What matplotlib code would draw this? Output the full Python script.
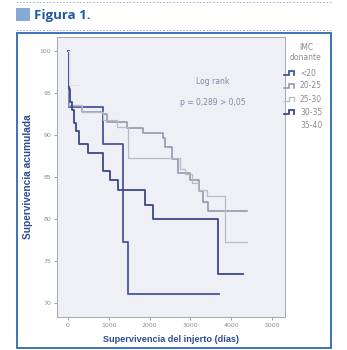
import numpy as np
import matplotlib.pyplot as plt
from matplotlib.lines import Line2D
from matplotlib.patches import Rectangle

# Kaplan-Meier curves: (days, % graft survival)
groups = ["<20", "20-25", "25-30", "30-35", "35-40"]

t_lt20 = [0, 25, 860, 1350, 1470, 3700]
s_lt20 = [100, 93.4, 88.9, 77.2, 71.0, 71.0]

t_20_25 = [0, 25, 345, 860, 955, 1450, 1840, 2330, 2380, 2550, 2700, 2980, 3200, 3300, 3440, 4390]
s_20_25 = [100, 93.5, 92.8, 92.5, 91.6, 90.9, 90.3, 89.6, 88.6, 87.1, 85.5, 84.6, 83.3, 82.0, 81.0, 81.0]

t_25_30 = [0, 25, 345, 860, 1200, 1470, 2750, 2870, 3040, 3190, 3400, 3850, 4390]
s_25_30 = [100, 93.6, 92.7, 91.8, 91.0, 87.3, 86.0, 85.3, 84.3, 83.4, 82.7, 77.3, 77.3]

t_30_35 = [0, 25, 60, 100, 150, 200, 260, 490, 860, 1030, 1225, 1890, 2080, 3680, 4290]
s_30_35 = [100, 95.5, 94.0, 93.0, 91.5, 90.5, 88.9, 87.9, 85.7, 84.7, 83.5, 81.7, 80.0, 73.4, 73.4]

t_35_40 = [0, 20, 250]
s_35_40 = [100, 96.0, 96.0]

x_ticks = [0, 1000, 2000, 3000, 4000, 5000]
y_ticks = [70, 75, 80, 85, 90, 95, 100]

times = [t_lt20, t_20_25, t_25_30, t_30_35, t_35_40]
survs = [s_lt20, s_20_25, s_25_30, s_30_35, s_35_40]
colors = ["#47549a", "#8b90aa", "#b8bbc6", "#3c4889", "#dde0e8"]
widths = [1.3, 1.1, 0.9, 1.3, 0.8]

W, H = 347, 350


def fx(x):
    return x / W


def fy(y):
    return 1 - y / H


fig = plt.figure(figsize=(W / 100, H / 100), dpi=100)
fig.patch.set_facecolor("white")

# header
for yy in (2, 30):
    fig.add_artist(Line2D([fx(16), fx(331)], [fy(yy), fy(yy)], color="#8fa3c8",
                          lw=0.6, ls=(0, (2, 2))))
fig.add_artist(Rectangle((fx(16), fy(21)), fx(14), 13 / H, color="#86a9d6", lw=0))
fig.text(fx(34), fy(15), "Figura 1.", color="#1d5aa2", fontsize=9.5,
         fontweight="bold", family=["Open Sans", "DejaVu Sans"], va="center")

# blue frame round the figure
fig.add_artist(Rectangle((fx(17), fy(348)), fx(314), 315 / H, fill=False,
                         ec="#2d68b2", lw=1.3))

ax = fig.add_axes([fx(57), fy(317), fx(228), 280 / H])
ax.set_facecolor("#eef0f5")

for t, s, c, lw in zip(times, survs, colors, widths):
    ax.step(t, s, where="post", color=c, lw=lw)

ax.set_xlim(-270, 5320)
ax.set_ylim(68.3, 101.7)
ax.set_xticks(x_ticks)
ax.set_yticks(y_ticks)
ax.tick_params(labelsize=4.5, colors="#8a8d98", length=2.5, width=0.6, pad=1.5)
for sp in ax.spines.values():
    sp.set_color("#a3a7b4")
    sp.set_linewidth(0.7)

lab_font = ["Liberation Sans Narrow", "Liberation Sans", "DejaVu Sans"]
ax.set_xlabel("Supervivencia del injerto (días)", fontsize=6.6, fontweight="bold",
              color="#2d4c92", family=lab_font, labelpad=5)
ax.set_ylabel("Supervivencia acumulada", fontsize=7.3, fontweight="bold",
              color="#2d4c92", family=lab_font, labelpad=5)

ax.text(3550, 96.4, "Log rank", fontsize=5.5, color="#7f88a8", ha="center", va="center")
ax.text(3550, 93.9, "p = 0,289 > 0,05", fontsize=5.5, color="#7f88a8",
        ha="center", va="center")

# legend with step icons
lax = fig.add_axes([fx(282), fy(132), fx(52), 92 / H])
lax.set_xlim(282, 334)
lax.set_ylim(132, 40)
lax.axis("off")
lax.text(306, 47, "IMC", fontsize=5.5, color="#8a8d98", ha="center", va="center")
lax.text(306, 57, "donante", fontsize=5.5, color="#8a8d98", ha="center", va="center")
for i, (g, c, lw) in enumerate(zip(groups, colors, widths)):
    yy = 73 + 13 * i
    if i < 4:
        lax.plot([284, 289, 289, 294, 294], [yy + 2, yy + 2, yy - 2.5, yy - 2.5, yy + 2],
                 color=c, lw=lw, solid_joinstyle="miter")
    lax.text(300, yy, g, fontsize=5.5, color="#8a8d98", va="center")

fig.savefig("out.png", dpi=100)
